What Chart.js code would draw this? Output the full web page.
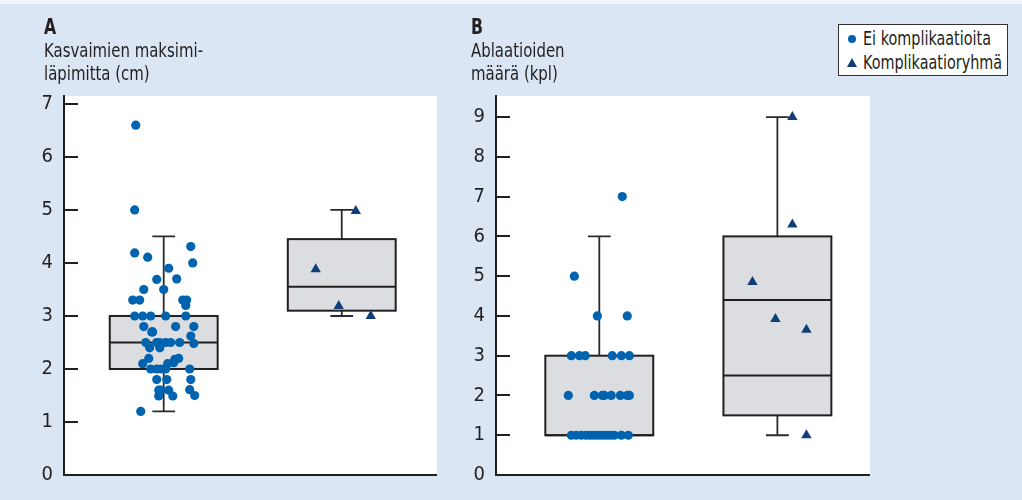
<!DOCTYPE html>
<html>
<head>
<meta charset="utf-8">
<script src="https://cdn.jsdelivr.net/npm/chart.js@4"></script>
<style>
    body { margin: 0; background: #dae6f3; font-family: "Liberation Sans Narrow", "DejaVu Sans Condensed", sans-serif; color: #231f20; }
    #wrap { position: relative; width: 1022px; height: 500px; overflow: hidden; }
    #topline { position: absolute; left: 0; top: 0; width: 1022px; height: 4px; background: #eef4fa; }
    #chartA { position: absolute; left: 0; top: 0; }
    #chartB { position: absolute; left: 440px; top: 0; }
    .title { position: absolute; top: 16px; font-size: 20px; line-height: 23px; white-space: nowrap;
             transform: scaleX(0.83); transform-origin: left top; }
    .title b { font-size: 21px; }
    #legend { position: absolute; left: 838px; top: 24px; width: 168px; height: 49px; background: #fff;
              border: 1.5px solid #333; font-size: 20px; line-height: 24px; padding-top: 1px; box-sizing: content-box; }
    #legend div { position: relative; padding-left: 24px; white-space: nowrap; }
    #legend .txt { display: inline-block; transform: scaleX(0.8); transform-origin: left center; }
    .dot { position: absolute; left: 9px; top: 9px; width: 8px; height: 8px; border-radius: 50%; background: #0063af; }
    .tri { position: absolute; left: 8px; top: 8px; width: 0; height: 0; border-left: 5px solid transparent;
           border-right: 5px solid transparent; border-bottom: 9px solid #103e78; }
</style>
</head>
<body>
<div id="wrap">
    <div id="topline"></div>
    <canvas id="chartA" width="480" height="500"></canvas>
    <canvas id="chartB" width="582" height="500"></canvas>
    <div class="title" style="left:44px"><b>A</b><br>Kasvaimien maksimi-<br>läpimitta (cm)</div>
    <div class="title" style="left:471px"><b>B</b><br>Ablaatioiden<br>määrä (kpl)</div>
    <div id="legend">
        <div><span class="dot"></span><span class="txt">Ei komplikaatioita</span></div>
        <div><span class="tri"></span><span class="txt">Komplikaatioryhmä</span></div>
    </div>
</div>
<script>
// Group positions on the x axis: 1 = no complications, 2 = complication group
const groups = [1, 2];

// Panel A - max tumour diameter (cm)
const aTicks = [0, 1, 2, 3, 4, 5, 6, 7];
const aWhiskerLow = [1.2, 3.0];
const aQ1 = [2.0, 3.1];
const aMedian = [[2.5], [3.55]];
const aQ3 = [3.0, 4.45];
const aWhiskerHigh = [4.5, 5.0];
const aNoCompValues = [
    6.6, 5.0, 4.19, 4.11, 4.31, 4.0, 3.9, 3.69, 3.7, 3.5, 3.5, 3.3, 3.3, 3.3, 3.3, 3.2,
    3.0, 3.0, 3.0, 3.0, 3.0, 2.8, 2.8, 2.8, 2.7, 2.7, 2.62,
    2.5, 2.5, 2.5, 2.5, 2.5, 2.5, 2.48, 2.4, 2.4, 2.2, 2.2, 2.18, 2.1, 2.1, 2.12,
    2.0, 2.0, 2.0, 2.0, 2.0, 1.8, 1.8, 1.8, 1.6, 1.6, 1.6, 1.61, 1.49, 1.49, 1.5, 1.2
];
const aNoCompJitter = [
    -0.157, -0.163, -0.163, -0.09, 0.152, 0.163, 0.028, -0.039, 0.073, -0.112, 0, -0.174, -0.135, 0.107, 0.129, 0.124,
    -0.163, -0.118, -0.073, 0.011, 0.124, -0.112, 0.067, 0.169, -0.067, -0.062, 0.152,
    -0.101, -0.039, -0.022, 0.011, 0.039, 0.09, 0.169, -0.079, -0.022, -0.084, 0.084, 0.062, -0.118, 0.022, 0.056,
    -0.073, -0.039, -0.017, 0.011, 0.146, -0.039, 0.017, 0.152, -0.028, -0.017, 0.028, 0.146, -0.028, 0.051, 0.174, -0.129
];
const aCompValues = [3.88, 3.19, 4.98, 3.0];
const aCompJitter = [-0.146, -0.017, 0.079, 0.163];

// Panel B - number of ablations
const bTicks = [0, 1, 2, 3, 4, 5, 6, 7, 8, 9];
const bWhiskerLow = [1.0, 1.0];
const bQ1 = [1.0, 1.5];
const bMedian = [[1.0], [4.4, 2.5]];
const bQ3 = [3.0, 6.0];
const bWhiskerHigh = [6.0, 9.0];
const bNoCompValues = [
    5, 7, 4, 4, 3, 3, 3, 3, 3, 3,
    2, 2, 2, 2, 2, 2, 2, 2,
    1, 1, 1, 1, 1, 1, 1, 1, 1, 1, 1, 1, 1
];
const bNoCompJitter = [
    -0.14, 0.129, -0.011, 0.157, -0.157, -0.112, -0.079, 0.073, 0.124, 0.169,
    -0.174, -0.028, 0.017, 0.028, 0.067, 0.118, 0.157, 0.169,
    -0.157, -0.129, -0.101, -0.073, -0.051, -0.028, -0.006, 0.017, 0.039, 0.062, 0.084, 0.124, 0.163
];
const bCompValues = [9.0, 6.3, 4.85, 3.92, 3.65, 1.0];
const bCompJitter = [0.084, 0.084, -0.14, -0.011, 0.163, 0.163];

const INK = '#231f20';
const DOT = '#0063af';
const TRI = '#103e78';

function toPoints(values, jitter, group) {
    return values.map((v, i) => ({ x: group + jitter[i], y: v }));
}

// draws the white plot area, boxes, whiskers and inward axis ticks
const boxPlot = {
    id: 'boxPlot',
    beforeDraw(chart) {
        const { ctx, chartArea: a } = chart;
        ctx.save();
        ctx.fillStyle = '#fff';
        ctx.fillRect(a.left, a.top, a.right - a.left, a.bottom - a.top);
        ctx.restore();
    },
    beforeDatasetsDraw(chart, args, opts) {
        const { ctx, chartArea: a, scales: { x, y } } = chart;
        ctx.save();
        // axis ticks pointing into the plot
        ctx.strokeStyle = INK;
        ctx.lineWidth = 2;
        y.ticks.forEach(t => {
            const py = Math.round(y.getPixelForValue(t.value));
            ctx.beginPath();
            ctx.moveTo(a.left, py);
            ctx.lineTo(a.left + 14, py);
            ctx.stroke();
        });
        ctx.beginPath();
        ctx.moveTo(a.left - 1, a.bottom);
        ctx.lineTo(a.right, a.bottom);
        ctx.stroke();

        groups.forEach((g, i) => {
            const xl = x.getPixelForValue(g - opts.halfWidth);
            const xr = x.getPixelForValue(g + opts.halfWidth);
            const xc = x.getPixelForValue(g);
            const cl = x.getPixelForValue(g - opts.capWidth);
            const cr = x.getPixelForValue(g + opts.capWidth);
            const q1 = y.getPixelForValue(opts.q1[i]);
            const q3 = y.getPixelForValue(opts.q3[i]);
            const lo = y.getPixelForValue(opts.low[i]);
            const hi = y.getPixelForValue(opts.high[i]);

            ctx.strokeStyle = '#2b2b2b';
            ctx.lineWidth = 1.8;
            // whiskers
            ctx.beginPath();
            ctx.moveTo(xc, q3); ctx.lineTo(xc, hi);
            ctx.moveTo(cl, hi); ctx.lineTo(cr, hi);
            if (opts.low[i] < opts.q1[i]) {
                ctx.moveTo(xc, q1); ctx.lineTo(xc, lo);
                ctx.moveTo(cl, lo); ctx.lineTo(cr, lo);
            }
            ctx.stroke();
            // box
            ctx.fillStyle = '#dcdde0';
            ctx.fillRect(xl, q3, xr - xl, q1 - q3);
            ctx.lineWidth = 2;
            ctx.strokeStyle = INK;
            ctx.strokeRect(xl, q3, xr - xl, q1 - q3);
            opts.median[i].forEach(m => {
                const pm = y.getPixelForValue(m);
                ctx.beginPath();
                ctx.moveTo(xl, pm); ctx.lineTo(xr, pm);
                ctx.stroke();
            });
        });
        ctx.restore();
    }
};

function makePanel(id, p) {
    return new Chart(document.getElementById(id).getContext('2d'), {
        type: 'scatter',
        data: {
            datasets: [{
                label: 'Ei komplikaatioita',
                data: toPoints(p.noComp, p.noCompJitter, groups[0]),
                pointStyle: 'circle',
                radius: 4.6,
                backgroundColor: DOT,
                borderWidth: 0
            }, {
                label: 'Komplikaatioryhmä',
                data: toPoints(p.comp, p.compJitter, groups[1]),
                pointStyle: 'triangle',
                radius: 6,
                backgroundColor: TRI,
                borderWidth: 0
            }]
        },
        options: {
            responsive: false,
            animation: false,
            layout: {
                padding: { top: 96, bottom: 25, left: 0, right: p.padRight }
            },
            plugins: {
                legend: { display: false },
                tooltip: { enabled: false },
                boxPlot: {
                    halfWidth: 0.303,
                    capWidth: 0.064,
                    low: p.low, q1: p.q1, median: p.median, q3: p.q3, high: p.high
                }
            },
            scales: {
                x: {
                    type: 'linear',
                    display: false,
                    min: p.xMin,
                    max: p.xMax
                },
                y: {
                    min: p.ticks[0],
                    max: p.yMax,
                    afterBuildTicks: function(scale) {
                        scale.ticks = p.ticks.map(v => ({ value: v }));
                    },
                    afterFit: function(scale) {
                        scale.width = p.axisWidth;
                    },
                    grid: { display: false, drawTicks: false },
                    border: { display: true, color: INK, width: 2 },
                    ticks: {
                        padding: 11,
                        color: INK,
                        font: { family: '"Liberation Sans Narrow", "DejaVu Sans Condensed", sans-serif', size: 20 }
                    }
                }
            }
        },
        plugins: [boxPlot]
    });
}

makePanel('chartA', {
    ticks: aTicks, yMax: 7.15, xMin: 0.44, xMax: 2.535, axisWidth: 64, padRight: 43,
    low: aWhiskerLow, q1: aQ1, median: aMedian, q3: aQ3, high: aWhiskerHigh,
    noComp: aNoCompValues, noCompJitter: aNoCompJitter, comp: aCompValues, compJitter: aCompJitter
});

makePanel('chartB', {
    ticks: bTicks, yMax: 9.53, xMin: 0.42, xMax: 2.52, axisWidth: 56, padRight: 152,
    low: bWhiskerLow, q1: bQ1, median: bMedian, q3: bQ3, high: bWhiskerHigh,
    noComp: bNoCompValues, noCompJitter: bNoCompJitter, comp: bCompValues, compJitter: bCompJitter
});
</script>
</body>
</html>
